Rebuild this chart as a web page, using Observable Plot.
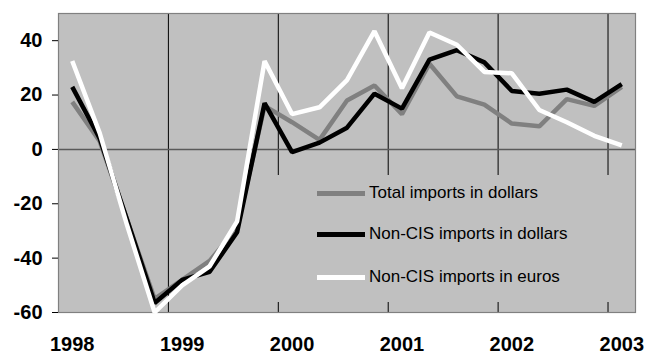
<!DOCTYPE html>
<html>
<head>
<meta charset="utf-8">
<script src="https://cdn.jsdelivr.net/npm/d3@7"></script>
<script src="https://cdn.jsdelivr.net/npm/@observablehq/plot@0.6"></script>
<style>
  html, body { margin: 0; padding: 0; background: #fff; }
  #wrap { position: relative; width: 654px; height: 355px; font-family: "Liberation Sans", Arial, sans-serif; }
  #legend { position: absolute; left: 272px; top: 175px; width: 362px; height: 127px; background: #c0c0c0; }
  .swatch { position: absolute; left: 45px; width: 48px; height: 5px; }
  .lab { position: absolute; left: 97px; font-size: 17px; color: #000; white-space: nowrap; line-height: 20px; }
</style>
</head>
<body>
<div id="wrap"></div>
<script>
// Quarterly, 1998Q1 .. 2003Q1
const quarters = ["1998Q1","1998Q2","1998Q3","1998Q4","1999Q1","1999Q2","1999Q3","1999Q4",
  "2000Q1","2000Q2","2000Q3","2000Q4","2001Q1","2001Q2","2001Q3","2001Q4",
  "2002Q1","2002Q2","2002Q3","2002Q4","2003Q1"];
const totalDollars  = [17.5, 3, -26, -55, -48, -41, -29, 16, 10, 3.5, 18, 23.5, 13, 31.5, 19.5, 16.5, 9.5, 8.5, 18.5, 16, 23];
const nonCisDollars = [23, 4, -26, -56.5, -48, -45, -30.5, 17, -1, 2.5, 8, 20.5, 15, 33, 36.5, 32, 21.5, 20.5, 22, 17.5, 24];
const nonCisEuros   = [32.5, 6, -28, -60, -50, -43, -26.5, 32.5, 13, 15.5, 25.5, 43.5, 22.5, 43, 38.5, 28.5, 28, 14.5, 10, 5, 1.5];
const yearLabels = ["1998","1999","2000","2001","2002","2003"];
const yTicks = [-60, -40, -20, 0, 20, 40];
const seriesNames = ["Total imports in dollars", "Non-CIS imports in dollars", "Non-CIS imports in euros"];
const seriesColors = ["#808080", "#000000", "#ffffff"];

const series = [totalDollars, nonCisDollars, nonCisEuros];
const rows = series.flatMap((vals, s) => vals.map((v, i) => ({i, v, s: seriesNames[s], q: quarters[i]})));
const yearIdx = yearLabels.map((y) => quarters.indexOf(y + "Q1"));
const gridIdx = yearIdx.slice(1).map(i => i - 0.5);

const chart = Plot.plot({
  width: 654, height: 355,
  marginLeft: 58, marginRight: 19, marginTop: 13, marginBottom: 43,
  style: {fontFamily: "'Liberation Sans', Arial, sans-serif", background: "#fff", overflow: "visible"},
  x: {domain: [-0.5, quarters.length - 0.5], label: null},
  y: {domain: [-60, 50], label: null},
  marks: [
    Plot.frame({fill: "#c0c0c0", stroke: null}),
    Plot.ruleX(gridIdx, {stroke: "#000", strokeWidth: 1}),
    Plot.ruleY([0], {stroke: "#5a5a5a", strokeWidth: 1.5}),
    Plot.frame({stroke: "#808080", strokeWidth: 1.2}),
    ...series.map((vals, s) => Plot.line(rows.filter(d => d.s === seriesNames[s]), {
      x: "i", y: "v", stroke: seriesColors[s], strokeWidth: 4.5, strokeLinejoin: "miter", strokeLinecap: "butt"
    })),
    Plot.axisY({ticks: yTicks, label: null, tickSize: 6, tickPadding: 10, fontSize: 20, fontWeight: "bold", tickFormat: d => d, stroke: "#000", color: "#000"}),
    Plot.axisX({ticks: yearIdx, label: null, tickFormat: (d) => yearLabels[yearIdx.indexOf(d)], tickSize: 0, tickPadding: 24, fontSize: 20, fontWeight: "bold", color: "#000"})
  ]
});

const wrap = document.getElementById("wrap");
wrap.appendChild(chart);

const legend = document.createElement("div");
legend.id = "legend";
const rowTops = [18, 59, 102];
seriesNames.forEach((name, s) => {
  const sw = document.createElement("div");
  sw.className = "swatch";
  sw.style.top = (rowTops[s] - 2.5) + "px";
  sw.style.background = seriesColors[s];
  legend.appendChild(sw);
  const lab = document.createElement("div");
  lab.className = "lab";
  lab.style.top = (rowTops[s] - 10) + "px";
  lab.textContent = name;
  legend.appendChild(lab);
});
wrap.appendChild(legend);
</script>
</body>
</html>
